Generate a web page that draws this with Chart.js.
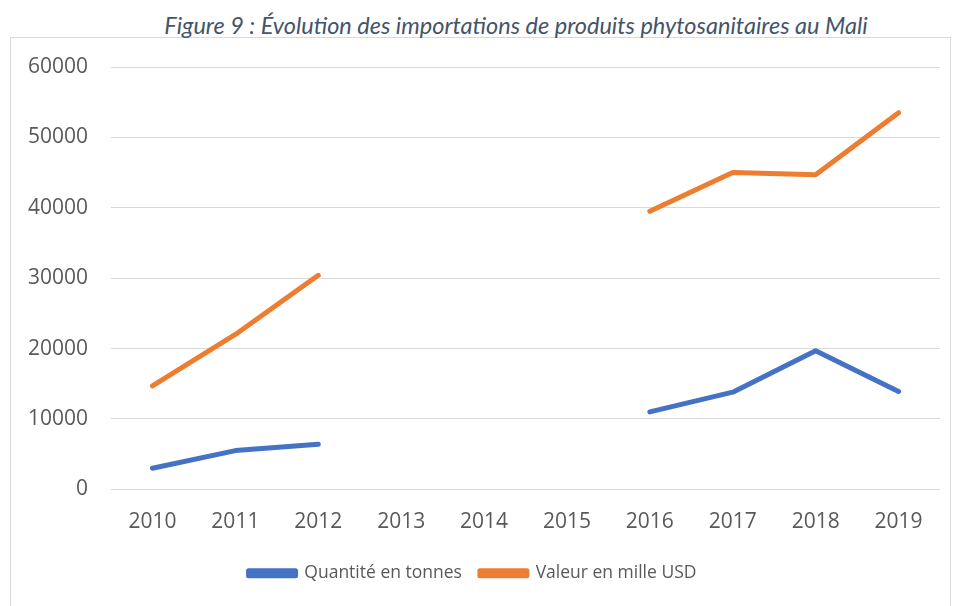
<!DOCTYPE html>
<html>
<head>
<meta charset="utf-8">
<script src="https://cdn.jsdelivr.net/npm/chart.js@4"></script>
<style>
  html, body { margin: 0; padding: 0; background: #ffffff; }
  #frame { position: absolute; left: 10px; top: 37px; width: 941px; height: 600px; border: 1px solid #d9d9d9; box-sizing: border-box; }
  #title { position: absolute; left: 116px; width: 800px; top: 11px; text-align: center; font-family: 'Lato', sans-serif; font-style: italic; font-size: 23.5px; color: #44546a; white-space: nowrap; }
  #chart { position: absolute; left: 0; top: 0; }
</style>
</head>
<body>
<div id="frame"></div>
<div id="title">Figure 9 : Évolution des importations de produits phytosanitaires au Mali</div>
<canvas id="chart" width="954" height="606"></canvas>
<script>
// Données
const years = ['2010', '2011', '2012', '2013', '2014', '2015', '2016', '2017', '2018', '2019'];
const quantiteTonnes = [3000, 5500, 6400, null, null, null, 11000, 13800, 19700, 13900];
const valeurMilleUSD = [14700, 22000, 30400, null, null, null, 39500, 45000, 44700, 53500];
const yTicks = [0, 10000, 20000, 30000, 40000, 50000, 60000];

const BLUE = '#4472c4';
const ORANGE = '#ed7d31';
const TICK_COLOR = '#595959';
const GRID_COLOR = '#d9d9d9';

const ctx = document.getElementById('chart').getContext('2d');
new Chart(ctx, {
    type: 'line',
    data: {
        labels: years,
        datasets: [
            {
                label: 'Quantité en tonnes',
                data: quantiteTonnes,
                borderColor: BLUE,
                backgroundColor: BLUE,
                borderWidth: 5,
                borderCapStyle: 'round',
                borderJoinStyle: 'round',
                pointRadius: 0,
                spanGaps: false,
                tension: 0
            },
            {
                label: 'Valeur en mille USD',
                data: valeurMilleUSD,
                borderColor: ORANGE,
                backgroundColor: ORANGE,
                borderWidth: 5,
                borderCapStyle: 'round',
                borderJoinStyle: 'round',
                pointRadius: 0,
                spanGaps: false,
                tension: 0
            }
        ]
    },
    options: {
        responsive: false,
        animation: false,
        layout: { padding: { left: 5, right: 14, top: 67, bottom: 14 } },
        plugins: {
            legend: {
                position: 'bottom',
                labels: {
                    color: TICK_COLOR,
                    font: { family: 'Open Sans', size: 17.5 },
                    boxWidth: 47,
                    boxHeight: 5,
                    padding: 18
                }
            },
            tooltip: { enabled: false }
        },
        scales: {
            x: {
                offset: true,
                grid: { display: false },
                border: { display: false },
                ticks: { color: TICK_COLOR, font: { family: 'Open Sans', size: 21 }, padding: 12, maxRotation: 0 }
            },
            y: {
                min: 0,
                max: 60000,
                afterBuildTicks: axis => { axis.ticks = yTicks.map(v => ({ value: v })); },
                grid: { color: GRID_COLOR, lineWidth: 1, drawTicks: false },
                border: { display: false },
                ticks: { color: TICK_COLOR, font: { family: 'Open Sans', size: 21 }, padding: 23, callback: v => String(v) }
            }
        }
    }
});
</script>
</body>
</html>
